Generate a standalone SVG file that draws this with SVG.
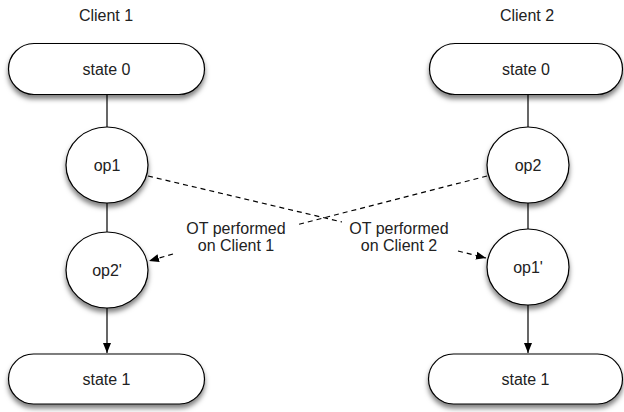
<svg xmlns="http://www.w3.org/2000/svg" width="624" height="412" viewBox="0 0 624 412">
<style>
.shape{fill:#fff;stroke:#000;stroke-width:1.2;filter:url(#sh)}
.t{font-family:"Liberation Sans",Arial,sans-serif;font-size:16px;fill:#222;text-anchor:middle}
.ln{fill:none;stroke:#000;stroke-width:1.2}
.dash{fill:none;stroke:#000;stroke-width:1.2;stroke-dasharray:5,4}
</style>
<defs>
<filter id="sh" x="-20%" y="-20%" width="140%" height="150%">
<feDropShadow dx="0" dy="4" stdDeviation="2.5" flood-color="#000" flood-opacity="0.5"/>
</filter>
<marker id="ah" viewBox="0 0 10 10" refX="10" refY="5" markerWidth="10" markerHeight="10" markerUnits="userSpaceOnUse" orient="auto">
<path d="M0,1 L10,5 L0,9 Z" fill="#000"/>
</marker>
</defs>
<text class="t" x="106" y="21">Client 1</text>
<text class="t" x="527" y="21">Client 2</text>
<g id="connectors">
<line class="ln" x1="107" y1="94" x2="107" y2="127"/>
<line class="ln" x1="107" y1="203" x2="107" y2="232"/>
<line class="ln" x1="107" y1="308" x2="107" y2="353" marker-end="url(#ah)"/>
<line class="ln" x1="528" y1="94" x2="528" y2="127"/>
<line class="ln" x1="528" y1="203" x2="528" y2="229"/>
<line class="ln" x1="528" y1="305" x2="528" y2="353" marker-end="url(#ah)"/>
<line class="dash" x1="148" y1="176" x2="342" y2="222"/>
<line class="dash" x1="458" y1="251" x2="486" y2="258" marker-end="url(#ah)"/>
<line class="dash" x1="487" y1="176" x2="296" y2="225"/>
<line class="dash" x1="173" y1="254" x2="149" y2="261" marker-end="url(#ah)"/>
<text class="t" x="236" y="234">OT performed</text>
<text class="t" x="236" y="251">on Client 1</text>
<text class="t" x="399" y="234">OT performed</text>
<text class="t" x="399" y="251">on Client 2</text>
</g>
<g id="c1-state0"><rect class="shape" x="8.5" y="43.5" width="196" height="51" rx="25.5"/><text class="t" x="106.5" y="75">state 0</text></g>
<g id="c1-op1"><ellipse class="shape" cx="107" cy="165" rx="41" ry="38"/><text class="t" x="107" y="171">op1</text></g>
<g id="c1-op2p"><ellipse class="shape" cx="107" cy="270" rx="41" ry="38"/><text class="t" x="107" y="276">op2'</text></g>
<g id="c1-state1"><rect class="shape" x="8.5" y="354" width="196" height="50" rx="25"/><text class="t" x="106.5" y="385">state 1</text></g>
<g id="c2-state0"><rect class="shape" x="429.5" y="43.5" width="193" height="51" rx="25.5"/><text class="t" x="526" y="75">state 0</text></g>
<g id="c2-op2"><ellipse class="shape" cx="528" cy="165" rx="41" ry="38"/><text class="t" x="528" y="171">op2</text></g>
<g id="c2-op1p"><ellipse class="shape" cx="528" cy="267" rx="41" ry="38"/><text class="t" x="528" y="273">op1'</text></g>
<g id="c2-state1"><rect class="shape" x="428.5" y="354" width="194" height="50" rx="25"/><text class="t" x="525.5" y="385">state 1</text></g>
</svg>
